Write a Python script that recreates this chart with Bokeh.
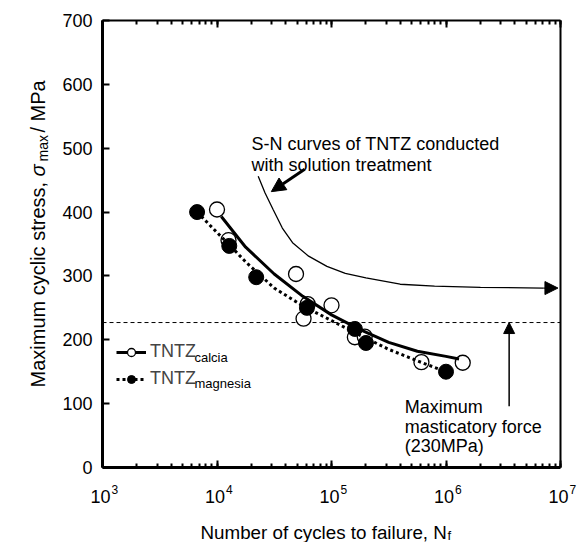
import math
from bokeh.plotting import figure
from bokeh.models import (Range1d, LogAxis, LinearAxis, LogTicker, FixedTicker, Label,
                          Arrow, NormalHead, Legend, LegendItem, CustomJSTickFormatter)
from bokeh.embed import file_html
from bokeh.resources import INLINE

# ---------------- data ----------------
calcia_cycles = [1.0e4, 1.26e4, 4.9e4, 5.7e4, 6.2e4, 1.0e5, 1.6e5, 1.95e5, 6.1e5, 1.4e6]
calcia_stress = [404, 356, 303, 233, 256, 254, 204, 205, 165, 164]

magnesia_cycles = [6.7e3, 1.28e4, 2.2e4, 6.1e4, 1.6e5, 2.0e5, 1.0e6]
magnesia_stress = [400, 347, 298, 250, 217, 195, 150]

calcia_fit_cycles = [1.09e4, 1.78e4, 3.16e4, 5.62e4, 1.0e5, 1.78e5, 3.16e5, 5.62e5, 1.0e6, 1.3e6]
calcia_fit_stress = [393, 345, 303, 268, 239, 216, 196, 182, 174, 170]

magnesia_fit_cycles = [6.7e3, 1.0e4, 1.26e4, 1.78e4, 3.16e4, 5.62e4, 1.0e5, 1.78e5, 3.16e5, 5.62e5, 1.0e6]
magnesia_fit_stress = [400, 368, 350, 322, 281, 253, 230, 207, 185, 167, 150]

solution_cycles = [2.29e4, 2.63e4, 3.09e4, 3.72e4, 4.57e4, 6.31e4, 9.12e4, 1.32e5,
                   2.0e5, 3.98e5, 7.94e5, 2.0e6, 7.08e6, 9.5e6]
solution_stress = [456, 430, 404, 375, 352, 331, 315, 304, 297, 287, 284, 282, 281, 281]

masticatory_level = 227

x_tick_values = [1e3, 1e4, 1e5, 1e6, 1e7]
x_tick_exponents = ["3", "4", "5", "6", "7"]
y_tick_values = [0, 100, 200, 300, 400, 500, 600, 700]
x_bounds = (x_tick_values[0], x_tick_values[-1])
y_bounds = (y_tick_values[0], y_tick_values[-1])

FONT = "Liberation Sans"

# ---------------- layout (pixels on the page) ----------------
W, H = 577, 542           # canvas size; canvas origin lands at page (1, 1)
PX_L, PX_R = 103, 561     # page x of the 1e3 / 1e7 axis ends
PY_T, PY_B = 21, 468      # page y of the 700 / 0 axis ends
decade = (PX_R - PX_L) / 4.0
unit = (PY_B - PY_T) / 700.0
xlo = 10 ** (3 - (PX_L - 1) / decade)
xhi = 10 ** (7 + (1 + W - PX_R) / decade)
yhi = 700 + (PY_T - 1) / unit
ylo = 0 - (1 + H - PY_B) / unit


def sx(px):
    return px - 1


def sy(py):
    return 1 + H - py


p = figure(x_axis_type="log", x_range=Range1d(xlo, xhi), y_range=Range1d(ylo, yhi),
           frame_width=W, frame_height=H, min_border=0,
           output_backend="svg", toolbar_location=None)
p.grid.visible = False
p.outline_line_color = None
p.background_fill_color = "white"
p.border_fill_color = "white"


def style_log_axis(ax, lw):
    ax.ticker = LogTicker(num_minor_ticks=10)
    ax.formatter = CustomJSTickFormatter(code="return ''")
    ax.major_tick_in = 7
    ax.major_tick_out = 0
    ax.minor_tick_in = 4
    ax.minor_tick_out = 0
    ax.major_tick_line_width = 2
    ax.minor_tick_line_width = 2
    ax.axis_line_width = lw
    ax.major_label_standoff = 0
    ax.bounds = x_bounds


# bottom axis
xa = p.xaxis[0]
style_log_axis(xa, 3)
xa.fixed_location = y_bounds[0]

# top axis
ta = LogAxis()
style_log_axis(ta, 2)
ta.fixed_location = y_bounds[1]
p.add_layout(ta, "above")

# left axis
ya = p.yaxis[0]
ya.ticker = FixedTicker(ticks=y_tick_values)
ya.fixed_location = x_bounds[0]
ya.bounds = y_bounds
ya.major_tick_in = 7
ya.major_tick_out = 0
ya.minor_tick_line_color = None
ya.major_tick_line_width = 2
ya.axis_line_width = 3
ya.major_label_standoff = 10
ya.major_label_text_font = FONT
ya.major_label_text_font_size = "18px"
ya.major_label_text_color = "black"

# right border (axis line only)
ra = LinearAxis(ticker=FixedTicker(ticks=[]), formatter=CustomJSTickFormatter(code="return ''"))
ra.fixed_location = x_bounds[1]
ra.bounds = y_bounds
ra.axis_line_width = 2
ra.major_tick_line_color = None
ra.minor_tick_line_color = None
p.add_layout(ra, "right")

# ---------------- glyphs ----------------
p.line(solution_cycles[:-1], solution_stress[:-1], line_color="black", line_width=1.3)
p.add_layout(Arrow(x_start=solution_cycles[-2], y_start=solution_stress[-2],
                   x_end=solution_cycles[-1], y_end=solution_stress[-1],
                   line_width=1.3, line_color="black",
                   end=NormalHead(size=13, fill_color="black", line_color="black")))

p.line(list(x_bounds), [masticatory_level, masticatory_level], line_color="black",
       line_width=1, line_dash="4 3")

open_r = p.scatter(calcia_cycles, calcia_stress, size=15, marker="circle",
                   fill_color="white", line_color="black", line_width=1.3)
cal_line = p.line(calcia_fit_cycles, calcia_fit_stress, line_color="black", line_width=3)
mag_line = p.line(magnesia_fit_cycles, magnesia_fit_stress, line_color="black",
                  line_width=3, line_dash="3 3")
fill_r = p.scatter(magnesia_cycles, magnesia_stress, size=15, marker="circle",
                   fill_color="black", line_color="black", line_width=1)

# ---------------- legend ----------------
legend = Legend(items=[LegendItem(label="TNTZ", renderers=[cal_line, open_r]),
                       LegendItem(label="TNTZ", renderers=[mag_line, fill_r])],
                location=(sx(117), sy(390)), padding=0, margin=0, spacing=6,
                glyph_width=30, glyph_height=20, label_height=20, label_standoff=4,
                border_line_color=None, background_fill_alpha=0,
                label_text_font=FONT, label_text_font_size="18px")
p.add_layout(legend)


def slabel(px, py, text, size, **kw):
    kw.setdefault("text_font", FONT)
    kw.setdefault("text_baseline", "alphabetic")
    kw.setdefault("text_color", "black")
    p.add_layout(Label(x=sx(px), y=sy(py), x_units="screen", y_units="screen",
                       text=text, text_font_size=size, **kw))


slabel(195, 358, "calcia", "13px")
slabel(195, 384, "magnesia", "13px")

# ---------------- annotations ----------------
def lab(x, y, t, size="18px", **kw):
    p.add_layout(Label(x=x, y=y, text=t, text_font=FONT, text_font_size=size,
                       text_baseline="alphabetic", text_color="black", **kw))


lab(2.0e4, 506, "S-N curves of TNTZ conducted")
lab(2.0e4, 474, "with solution treatment")
p.add_layout(Arrow(x_start=5.83e4, y_start=467, x_end=2.98e4, y_end=432,
                   line_width=3, line_color="black",
                   end=NormalHead(size=14, fill_color="black", line_color="black")))

lab(4.37e5, 95, "Maximum")
lab(4.37e5, 64, "masticatory force")
lab(4.37e5, 33, "(230MPa)")
p.add_layout(Arrow(x_start=3.56e6, y_start=96, x_end=3.56e6, y_end=masticatory_level,
                   line_width=1.5, line_color="black",
                   end=NormalHead(size=11, fill_color="black", line_color="black")))

# x tick labels 10^n
for v, e in zip(x_tick_values, x_tick_exponents):
    p.add_layout(Label(x=v, y=sy(497), y_units="screen", text="10", x_offset=8,
                       text_align="right", text_baseline="alphabetic",
                       text_font=FONT, text_font_size="18px", text_color="black"))
    p.add_layout(Label(x=v, y=sy(490), y_units="screen", text=e, x_offset=9,
                       text_align="left", text_baseline="alphabetic",
                       text_font=FONT, text_font_size="12px", text_color="black"))

# x axis title
slabel(201, 533, "Number of cycles to failure, N", "18.8px")
slabel(448, 536, "f", "13px")

# y axis title (rotated)
rot = math.pi / 2
slabel(38, 388, "Maximum cyclic stress,", "20px", angle=rot)
slabel(38, 177, "σ", "20px", angle=rot, text_font_style="italic")
slabel(43, 162, "max", "14px", angle=rot)
slabel(38, 133, "/ MPa", "20px", angle=rot)

open("out.html", "w").write(file_html(p, INLINE))
